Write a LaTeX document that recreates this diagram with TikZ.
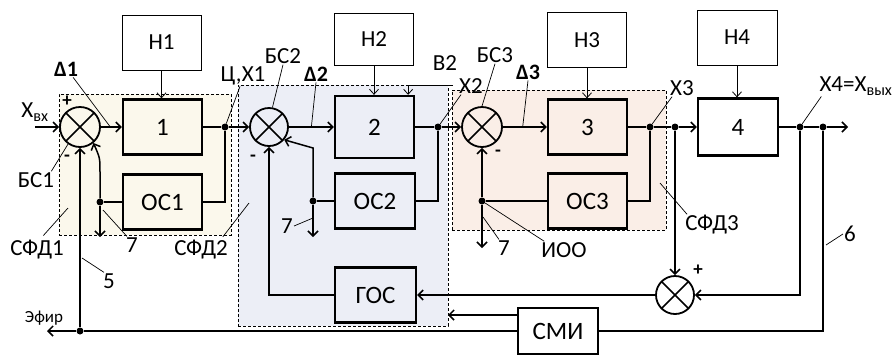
\documentclass[tikz,border=0pt]{standalone}
\usepackage{fontspec}
\setmainfont{Carlito}
\usetikzlibrary{arrows.meta,calc,fit,backgrounds}

\definecolor{zoneA}{HTML}{FBF8EC}
\definecolor{zoneB}{HTML}{ECEEF6}
\definecolor{zoneC}{HTML}{FAEEE7}

\begin{document}
\begin{tikzpicture}[
  x=1pt, y=-1pt,
  font=\fontsize{23}{24}\selectfont,
  block/.style={draw, line width=2.3pt, minimum width=79pt, minimum height=55pt, inner sep=0pt, font=\fontsize{25}{26}\selectfont},
  hbox/.style={draw, line width=0.9pt, minimum width=79pt, minimum height=55pt, inner sep=0pt, fill=white, font=\fontsize{23}{24}\selectfont},
  sumj/.style={circle, draw, line width=1.8pt, minimum size=40pt, inner sep=0pt,
    path picture={\draw[line width=1.6pt] (path picture bounding box.north west) -- (path picture bounding box.south east)
      (path picture bounding box.north east) -- (path picture bounding box.south west);}},
  dot/.style={circle, fill, inner sep=0pt, minimum size=7pt},
  wire/.style={line width=1.5pt},
  arrow/.style={-{Straight Barb[length=5pt,width=10pt]}, line width=1.5pt},
  thinarrow/.style={-{Straight Barb[length=5pt,width=9pt]}, line width=0.8pt},
  lead/.style={line width=0.7pt},
  lbl/.style={inner sep=1pt},
  sign/.style={inner sep=0pt, font=\bfseries\fontsize{19}{19}\selectfont},
  zone/.style={draw, line width=0.8pt, dash pattern=on 3pt off 2pt, inner sep=0pt}
]
\useasboundingbox (0,0) rectangle (895,357);

% load boxes
\node[hbox] (h1) at (161.5,42.5) {Н1};
\node[hbox, minimum height=52pt] (h2) at (374,39) {Н2};
\node[hbox] (h3) at (587,40) {Н3};
\node[hbox, minimum width=80pt] (h4) at (737,37.5) {Н4};

% main blocks
\node[block] (b1) at (162.5,127) {1};
\node[block, minimum height=62pt] (b2) at (374.5,127) {2};
\node[block] (b3) at (587.5,127) {3};
\node[block, minimum width=80pt, minimum height=57pt] (b4) at (738,127) {4};
\node[block] (oc1) at (162.5,202) {ОС1};
\node[block, minimum width=80pt] (oc2) at (375,201) {ОС2};
\node[block] (oc3) at (587.5,201) {ОС3};
\node[block, minimum width=81pt] (goc) at (375.5,295) {ГОС};
\node[block, line width=1.6pt, minimum width=80pt, minimum height=46pt, fill=white] (smi) at (558,331) {СМИ};

% summing junctions
\node[sumj] (bs1) at (80,127) {};
\node[sumj, minimum size=38pt] (bs2) at (269,127) {};
\node[sumj] (bs3) at (482,127) {};
\node[sumj, minimum size=38pt] (sum4) at (675,295) {};

% branch points
\node[dot] (dx1) at (225,127) {};
\node[dot] (dfb1) at (100,202) {};
\node[dot] (dfb2) at (313,201) {};
\node[dot] (dx2) at (438,127) {};
\node[dot] (dioo) at (482,201) {};
\node[dot] (dx3) at (650,127) {};
\node[dot] (dx3b) at (675,127) {};
\node[dot] (dx4) at (800,127) {};
\node[dot] (dx4b) at (823,127) {};
\node[dot] (def) at (80,331) {};

\coordinate (xin) at (35,127);
\coordinate (ether) at (47,331);
\coordinate (xout) at (848,127);
\coordinate (o7a) at (100,237);
\coordinate (o7b) at (313,237);
\coordinate (o7c) at (482,248);
\coordinate (smiout) at (448,315);
\coordinate (v2in) at (453,85);
\coordinate (zl1) at (68,208);
\coordinate (zl2) at (249,203);
\coordinate (zl3) at (660,183);

% texts
\node[lbl] (txin) at (35,112) {X\textsubscript{вх}};
\node[lbl, font=\bfseries\fontsize{22}{22}\selectfont] (td1) at (66,69) {Δ1};
\node[lbl] (tbs1) at (36,180) {БС1};
\node[lbl] (tsfd1) at (37,250) {СФД1};
\node[lbl] (t7a) at (132,245) {7};
\node[lbl] (t5) at (109,281) {5};
\node[lbl] (tsfd2) at (201,250) {СФД2};
\node[lbl] (tx1) at (243,76) {Ц,X1};
\node[lbl] (tbs2) at (283,56) {БС2};
\node[lbl, font=\bfseries\fontsize{22}{22}\selectfont] (td2) at (316,74) {Δ2};
\node[lbl] (tv2) at (445,63) {В2};
\node[lbl] (tx2) at (471,86) {X2};
\node[lbl] (tbs3) at (495,55) {БС3};
\node[lbl, font=\bfseries\fontsize{22}{22}\selectfont] (td3) at (528,72) {Δ3};
\node[lbl] (tx3) at (682,88) {X3};
\node[lbl] (tsfd3) at (712,225) {СФД3};
\node[lbl] (tioo) at (564,250) {ИОО};
\node[lbl] (t7b) at (287,226) {7};
\node[lbl] (t7c) at (504,248) {7};
\node[lbl] (tx4) at (856,86) {X4=X\textsubscript{вых}};
\node[lbl] (t6) at (850,234) {6};
\node[lbl, font=\fontsize{17}{18}\selectfont] (teth) at (44,318) {Эфир};
\node[sign] (p1) at (67,101) {+};
\node[sign] (m1) at (67,158) {-};
\node[sign] (m2) at (253,158) {-};
\node[sign] (m3) at (498,153) {-};
\node[sign] (p4) at (698,270) {+};

% signal paths
\draw[arrow] (xin) -- (bs1.west);
\draw[arrow] (bs1.east) -- (b1.west);
\draw[wire] (b1.east) -- (dx1);
\draw[arrow] (dx1) -- (bs2.west);
\draw[wire] (dx1) |- (oc1.east);
\draw[wire] (oc1.west) -- (dfb1);
\draw[arrow] (dfb1) -- (o7a);
\draw[arrow] (dfb1) -- ($(dfb1)+(0,-30)$) .. controls ($(dfb1)+(0,-44)$) .. (bs1.-50);
\draw[arrow] (def) -- (bs1.south);
\draw[arrow] (smi.west) -- (def) -- (ether);
\draw[arrow] (smiout -| smi.west) -- (smiout);
\draw[wire] (smi.east) -| (dx4b);
\draw[arrow] (dx4) |- (sum4.east);
\draw[arrow] (sum4.west) -- (goc.east);
\draw[arrow] (goc.west) -| (bs2.south);
\draw[arrow] (bs2.east) -- (b2.west);
\draw[wire] (b2.east) -- (dx2);
\draw[arrow] (dx2) -- (bs3.west);
\draw[wire] (dx2) |- (oc2.east);
\draw[wire] (oc2.west) -- (dfb2);
\draw[arrow] (dfb2) -- (o7b);
\draw[arrow] (dfb2) -- ($(dfb2)+(0,-53)$) -- (bs2.-40);
\draw[arrow] (bs3.east) -- (b3.west);
\draw[wire] (b3.east) -- (dx3) -- (dx3b);
\draw[arrow] (dx3b) -- (b4.west);
\draw[wire] (dx3) |- (oc3.east);
\draw[wire] (oc3.west) -- (dioo);
\draw[arrow] (dioo) -- (bs3.south);
\draw[arrow] (dioo) -- (o7c);
\draw[arrow] (dx3b) -- (sum4.north);
\draw[wire] (b4.east) -- (dx4) -- (dx4b);
\draw[arrow] (dx4b) -- (xout);

\foreach \i in {1,...,4}
  \draw[thinarrow] (h\i.south) -- (h\i.south |- b\i.north);
\draw[thinarrow] (v2in) -| ([xshift=-7pt]b2.north east);

% leaders
\draw[lead] ([xshift=-6pt]td1.south east) -- ($(bs1.east)!0.45!(b1.west)$);
\draw[lead] ([xshift=-4pt]tbs1.north east) -- (bs1.235);
\draw[lead, shorten <=5pt] ([xshift=3pt]tsfd1.north) -- (zl1);
\draw[lead] ([xshift=2pt]t7a.north west) -- ($(dfb1)+(3,8)$);
\draw[lead] ([xshift=2pt]t5.north west) -- ($(def)+(2,-73)$);
\draw[lead, shorten <=3pt] ([xshift=-8pt]tsfd2.north east) -- (zl2);
\draw[lead] (dx1) -- ([xshift=-3pt]tx1.south);
\draw[lead] (tbs2.south) -- (bs2.80);
\draw[lead] (td2.south) -- ($(bs2.east)!0.5!(b2.west)$);
\draw[lead] (dx2) -- ([xshift=3pt]tx2.south west);
\draw[lead] (tbs3.south) -- (bs3.north);
\draw[lead] (td3.south) -- ($(bs3.east)!0.45!(b3.west)$);
\draw[lead] (dx3) -- ([xshift=3pt]tx3.south west);
\draw[lead] ([xshift=3pt]tsfd3.north west) -- (zl3);
\draw[lead] (dioo) -- ([xshift=4pt]tioo.north west);
\draw[lead] ([xshift=2pt]t7c.north west) -- ($(dioo)+(1,16)$);
\draw[lead] (t7b.east) -- ($(dfb2)+(0,17)$);
\draw[lead] (dx4) -- ([xshift=3pt]tx4.south west);
\draw[lead] (t6.west) -- ($(dx4b)+(3,118)$);

% functional zones
\coordinate (z1a) at (59,94);   \coordinate (z1b) at (231,235);
\coordinate (z2a) at (238,85);  \coordinate (z2b) at (448,326);
\coordinate (z3a) at (452,90);  \coordinate (z3b) at (666,230);
\begin{scope}[on background layer]
  \node[zone, fill=zoneA, fit=(z1a) (z1b)] (sfd1) {};
  \node[zone, fill=zoneB, fit=(z2a) (z2b)] (sfd2) {};
  \node[zone, fill=zoneC, fit=(z3a) (z3b)] (sfd3) {};
\end{scope}
\end{tikzpicture}
\end{document}
